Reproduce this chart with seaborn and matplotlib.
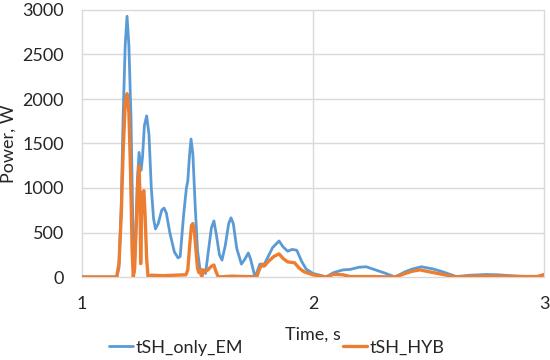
import numpy as np
import pandas as pd
import matplotlib
matplotlib.use("Agg")
import matplotlib.pyplot as plt
import seaborn as sns

# tSH_only_EM (blue)
t_em = [1.00, 1.15, 1.16, 1.17, 1.178, 1.187, 1.195, 1.203, 1.212, 1.22,
        1.225, 1.232, 1.24, 1.247, 1.256, 1.262, 1.27, 1.28, 1.29, 1.30,
        1.31, 1.318, 1.33, 1.345, 1.355, 1.365, 1.38, 1.40, 1.416, 1.425,
        1.44, 1.452, 1.458, 1.465, 1.472, 1.48, 1.49, 1.50, 1.51, 1.52,
        1.528, 1.535, 1.545, 1.56, 1.571, 1.58, 1.595, 1.606, 1.62, 1.635,
        1.645, 1.655, 1.67, 1.69, 1.705, 1.72, 1.73, 1.745, 1.75, 1.77,
        1.785, 1.80, 1.825, 1.853, 1.87, 1.89, 1.91, 1.93, 1.95, 1.97,
        2.00, 2.03, 2.056, 2.09, 2.13, 2.16, 2.20, 2.23, 2.27, 2.31,
        2.355, 2.40, 2.43, 2.47, 2.52, 2.56, 2.62, 2.68, 2.75, 2.80,
        2.88, 2.95, 2.98, 3.00]
p_em = [0, 0, 100, 800, 1800, 2600, 2930, 2600, 1800, 600,
        50, 400, 1100, 1400, 1200, 1350, 1700, 1810, 1600, 1000,
        650, 540, 600, 750, 775, 720, 500, 280, 215, 230,
        700, 1000, 1080, 1350, 1550, 1380, 800, 300, 100, 60,
        80, 40, 250, 550, 630, 500, 250, 190, 350, 600,
        665, 600, 320, 145, 200, 270, 200, 40, 0, 145,
        120, 200, 330, 405, 340, 290, 310, 300, 180, 90,
        40, 20, 0, 50, 80, 85, 110, 115, 80, 45,
        0, 60, 90, 115, 90, 60, 5, 20, 28, 25,
        10, 3, 5, 30]

# tSH_HYB (orange)
t_hyb = [1.00, 1.15, 1.16, 1.17, 1.178, 1.187, 1.195, 1.203, 1.21, 1.217,
         1.222, 1.228, 1.235, 1.242, 1.247, 1.251, 1.254, 1.258, 1.263, 1.268,
         1.273, 1.28, 1.286, 1.30, 1.35, 1.40, 1.45, 1.458, 1.466, 1.474,
         1.48, 1.487, 1.495, 1.50, 1.506, 1.51, 1.516, 1.52, 1.523, 1.53,
         1.545, 1.56, 1.571, 1.58, 1.59, 1.65, 1.70, 1.757, 1.77, 1.78,
         1.79, 1.805, 1.83, 1.853, 1.87, 1.89, 1.92, 1.94, 1.96, 2.00,
         2.056, 2.09, 2.13, 2.16, 2.25, 2.355, 2.40, 2.43, 2.463, 2.50,
         2.55, 2.62, 2.70, 2.80, 2.90, 2.97, 3.00]
p_hyb = [0, 0, 150, 700, 1400, 1950, 2060, 1850, 1200, 300,
         0, 100, 600, 1100, 1250, 900, 150, 700, 950, 970,
         700, 200, 0, 20, 15, 20, 25, 80, 350, 580,
         600, 500, 250, 100, 50, 80, 20, 10, 80, 60,
         80, 120, 135, 60, 0, 10, 5, 5, 100, 145,
         125, 170, 230, 260, 210, 170, 160, 100, 60, 25,
         0, 30, 25, 5, 5, 0, 40, 65, 80, 60,
         35, 0, 10, 10, 5, 5, 25]

x_ticks = [1, 2, 3]
y_ticks = [0, 500, 1000, 1500, 2000, 2500, 3000]

df = pd.concat([
    pd.DataFrame({"Time": t_em, "Power": p_em, "series": "tSH_only_EM"}),
    pd.DataFrame({"Time": t_hyb, "Power": p_hyb, "series": "tSH_HYB"}),
])

sns.set_theme(style="white")
plt.rcParams["font.family"] = ["Lato", "DejaVu Sans"]

fig = plt.figure(figsize=(5.5, 3.6), dpi=100)
# axes edges chosen on whole pixels: x 82..544, y 10..277
ax = fig.add_axes([82 / 550, 83 / 360, 462 / 550, 267 / 360])

# light grey gridlines like the spreadsheet chart
grid_color = "#D9D9D9"
for yv in y_ticks:
    ax.axhline(yv, color=grid_color, linewidth=1.0, zorder=0, clip_on=False)
for xv in x_ticks:
    ax.axvline(xv, color=grid_color, linewidth=1.0, zorder=0, clip_on=False)

sns.lineplot(data=df, x="Time", y="Power", hue="series", sort=False,
             palette={"tSH_only_EM": "#5B9BD5", "tSH_HYB": "#ED7D31"},
             linewidth=2.0, ax=ax, zorder=3)
for line in ax.lines:
    if line.get_color() == "#ED7D31":
        line.set_linewidth(2.4)

ax.set_xlim(1, 3)
ax.set_ylim(0, 3000)
ax.set_xticks(x_ticks)
ax.set_yticks(y_ticks)
for s in ax.spines.values():
    s.set_visible(False)
ax.tick_params(axis="x", pad=14, labelsize=13, length=0)
ax.tick_params(axis="y", pad=13, labelsize=13, length=0)
ax.set_xlabel("Time, s", fontsize=13, labelpad=10)
ax.set_ylabel("Power, W", fontsize=13, labelpad=4)

ax.legend(loc="center", bbox_to_anchor=(0.503, 0.034),
          bbox_transform=fig.transFigure, ncol=2,
          frameon=False, fontsize=13, handlelength=1.35, handletextpad=0.15,
          columnspacing=5.5, borderaxespad=0, borderpad=0)

fig.savefig("out.png", dpi=100)
